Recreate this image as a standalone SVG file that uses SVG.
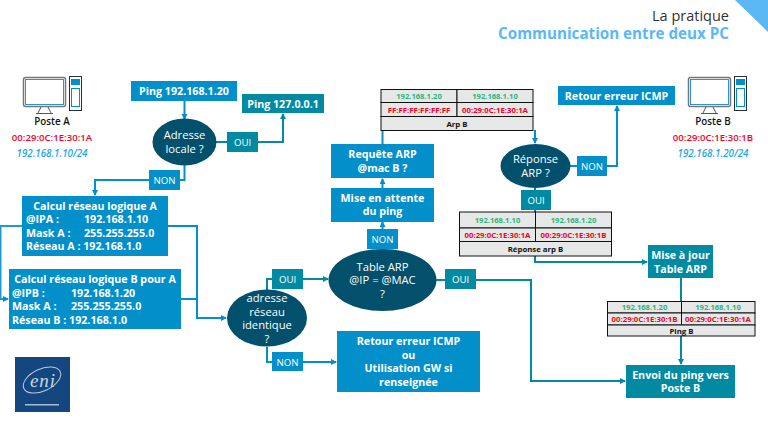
<svg xmlns="http://www.w3.org/2000/svg" width="768" height="425" viewBox="0 0 768 425">
<style>
text{font-family:"Open Sans","Noto Sans","Liberation Sans",sans-serif;text-anchor:middle}
.b{fill:#0390ca}.t{fill:#028aa3}.d{fill:#02506b}
.w{fill:#fff;font-weight:700;font-size:10.700px}
.l{text-anchor:start}
.e{fill:#fff;font-size:11.200px}
.lab{fill:#fff;font-size:9.600px;font-weight:400}
.c{fill:none;stroke:#0390ca;stroke-width:2}
.ct{fill:none;stroke:#028aa3;stroke-width:2}
.cell{fill:#e6e7e7;stroke:#111;stroke-width:1}
.ip{fill:#2cb67d;font-size:7.600px;font-weight:700}
.mac{fill:#f5001e;font-size:7.800px;font-weight:700}
.tt{fill:#111;font-size:7.800px;font-weight:700}
.pn{font-size:9.800px;font-weight:600;fill:#111}
.pm{font-size:9.600px;font-weight:600;fill:#f5001e}
.pi{font-size:9.800px;font-weight:600;font-style:italic;fill:#1ea7e8}
</style>
<defs>
<marker id="ab" markerWidth="7" markerHeight="7" refX="5" refY="3" orient="auto" markerUnits="userSpaceOnUse"><path d="M0 0L6 3L0 6Z" fill="#0390ca"/></marker>
<marker id="at" markerWidth="7" markerHeight="7" refX="5" refY="3" orient="auto" markerUnits="userSpaceOnUse"><path d="M0 0L6 3L0 6Z" fill="#028aa3"/></marker>
<g id="pc">
<rect x="0.500" y="1.500" width="42" height="29" rx="2" fill="#fff" stroke="#777" stroke-width="1.500"/>
<rect x="2.500" y="3.500" width="38" height="25" fill="#fff" stroke="#2a93d5" stroke-width="1"/>
<path d="M18 31L15 37M25 31L28 37M13 37.500H30" stroke="#555" stroke-width="1" fill="none"/>
<rect x="46.500" y="0.500" width="12" height="34" fill="#fff" stroke="#22303c" stroke-width="1"/>
<rect x="48" y="3" width="9" height="6" fill="#0390ca"/>
<rect x="48.500" y="12.500" width="8" height="18" fill="#fff" stroke="#0390ca" stroke-width="1"/>
</g>
</defs>

<rect width="768" height="425" fill="#fff"/>
<path d="M735 0H768V32Z" fill="#5bb8f5"/>
<text x="729" y="21" style="text-anchor:end;font-size:14.500px;fill:#333">La pratique</text>
<text x="729" y="39" style="text-anchor:end;font-size:15.200px;font-weight:700;fill:#5bb8f5">Communication entre deux PC</text>

<g id="connectors">
<path class="c" d="M184.500 101V119" marker-end="url(#ab)"/>
<path class="ct" d="M216 142H283V114" marker-end="url(#at)"/>
<path class="c" d="M184.500 165V180H95V195" marker-end="url(#ab)"/>
<path class="c" d="M22 226H0.500V299H8" marker-end="url(#ab)" stroke-opacity="0.9"/>
<path class="c" d="M168 226H197V318H226" marker-end="url(#ab)"/>
<path class="c" d="M181 299H197"/>
<path class="ct" d="M267 290V279H328" marker-end="url(#at)" stroke-width="1.500"/>
<path class="c" d="M267 347V362H336" marker-end="url(#ab)" stroke-width="1.500"/>
<path class="c" d="M382.500 229V222" marker-end="url(#ab)"/>
<path class="c" d="M382.500 249V229"/>
<path class="c" d="M382.500 188V179" marker-end="url(#ab)"/>
<path class="c" d="M382.500 144V130"/>
<path class="c" d="M535 130V143" marker-end="url(#ab)"/>
<path class="c" d="M570 166H617V106" marker-end="url(#ab)"/>
<path class="ct" d="M535 188V212"/>
<path class="ct" d="M535 256V262H647" marker-end="url(#at)"/>
<path class="ct" d="M681 278V302"/>
<path class="ct" d="M681 336V364" marker-end="url(#at)"/>
<path class="ct" d="M436 280H531V381H625" marker-end="url(#at)"/>
</g>

<g id="poste-a">
<use href="#pc" x="23" y="76"/>
<text class="pn" x="52" y="125">Poste A</text>
<text class="pm" x="52" y="141">00:29:0C:1E:30:1A</text>
<text class="pi" x="52" y="157">192.168.1.10/24</text>
</g>
<g id="poste-b">
<use href="#pc" x="688" y="76"/>
<text class="pn" x="713" y="125">Poste B</text>
<text class="pm" x="713" y="141">00:29:0C:1E:30:1B</text>
<text class="pi" x="713" y="157">192.168.1.20/24</text>
</g>

<g id="ping-20"><rect class="b" x="131" y="81" width="106" height="20"/><text class="w" x="184" y="95">Ping 192.168.1.20</text></g>
<g id="ping-127"><rect class="t" x="242" y="94" width="82" height="19"/><text class="w" x="283" y="108">Ping 127.0.0.1</text></g>
<g id="adresse-locale"><ellipse class="d" cx="184.500" cy="142" rx="32" ry="23.500"/><text class="e" x="184.500" y="139">Adresse</text><text class="e" x="184.500" y="153">locale ?</text></g>
<g id="oui-1"><rect class="t" x="227" y="132" width="31" height="20"/><text class="lab" x="242.500" y="146">OUI</text></g>
<g id="non-1"><rect class="b" x="149" y="170" width="31" height="20"/><text class="lab" x="164.500" y="184">NON</text></g>

<g id="calcul-a"><rect class="b" x="22" y="196" width="146" height="60"/>
<text class="w" x="95" y="210">Calcul réseau logique A</text>
<text class="w l" x="26" y="223">@IPA :</text><text class="w l" x="84" y="223">192.168.1.10</text>
<text class="w l" x="26" y="237">Mask A :</text><text class="w l" x="84" y="237">255.255.255.0</text>
<text class="w l" x="26" y="250">Réseau A : 192.168.1.0</text></g>
<g id="calcul-b"><rect class="b" x="9" y="269" width="172" height="60"/>
<text class="w" x="95" y="283">Calcul réseau logique B pour A</text>
<text class="w l" x="12" y="297">@IPB :</text><text class="w l" x="71" y="297">192.168.1.20</text>
<text class="w l" x="12" y="310">Mask A :</text><text class="w l" x="71" y="310">255.255.255.0</text>
<text class="w l" x="12" y="324">Réseau B : 192.168.1.0</text></g>

<g id="adresse-reseau"><ellipse class="d" cx="267" cy="318" rx="40" ry="28.500"/>
<text class="e" x="267" y="302">adresse</text><text class="e" x="267" y="316">réseau</text><text class="e" x="267" y="329">identique</text><text class="e" x="267" y="343">?</text></g>
<g id="oui-2"><rect class="t" x="272" y="269" width="31" height="20"/><text class="lab" x="287.500" y="283">OUI</text></g>
<g id="non-2"><rect class="b" x="272" y="352" width="31" height="19"/><text class="lab" x="287.500" y="365.500">NON</text></g>
<g id="table-arp"><ellipse class="d" cx="382.500" cy="280" rx="54" ry="31"/>
<text class="e" x="382.500" y="271">Table ARP</text><text class="e" x="382.500" y="284">@IP = @MAC</text><text class="e" x="382.500" y="298">?</text></g>
<g id="oui-3"><rect class="t" x="445" y="269" width="31" height="20"/><text class="lab" x="460.500" y="283">OUI</text></g>
<g id="retour-gw"><rect class="b" x="337" y="331" width="143" height="61"/>
<text class="w" x="408.500" y="345">Retour erreur ICMP</text><text class="w" x="408.500" y="359">ou</text><text class="w" x="408.500" y="372">Utilisation GW si</text><text class="w" x="408.500" y="386">renseignée</text></g>
<g id="non-3"><rect class="b" x="367" y="229" width="31" height="20"/><text class="lab" x="382.500" y="243">NON</text></g>
<g id="attente"><rect class="b" x="331" y="188" width="103" height="34"/><text class="w" x="382.500" y="202">Mise en attente</text><text class="w" x="382.500" y="215">du ping</text></g>
<g id="requete"><rect class="b" x="331" y="144" width="103" height="34"/><text class="w" x="382.500" y="158">Requête ARP</text><text class="w" x="382.500" y="172">@mac B ?</text></g>

<g id="arp-b">
<rect class="cell" x="381" y="89.500" width="76" height="13"/><rect class="cell" x="457" y="89.500" width="76" height="13"/>
<rect class="cell" x="381" y="102.500" width="76" height="14"/><rect class="cell" x="457" y="102.500" width="76" height="14"/>
<rect class="cell" x="381" y="116.500" width="152" height="14"/>
<text class="ip" x="419" y="99">192.168.1.20</text><text class="ip" x="495" y="99">192.168.1.10</text>
<text class="mac" x="419" y="113">FF:FF:FF:FF:FF:FF</text><text class="mac" x="495" y="113">00:29:0C:1E:30:1A</text>
<text class="tt" x="457" y="127">Arp B</text></g>

<g id="reponse"><ellipse class="d" cx="535.500" cy="166" rx="35" ry="22"/><text class="e" x="535.500" y="163">Réponse</text><text class="e" x="535.500" y="177">ARP ?</text></g>
<g id="non-4"><rect class="b" x="577" y="156" width="30" height="20"/><text class="lab" x="592" y="170">NON</text></g>
<g id="oui-4"><rect class="t" x="521" y="190" width="30" height="20"/><text class="lab" x="536" y="204">OUI</text></g>
<g id="retour-icmp"><rect class="b" x="558" y="86" width="117" height="19"/><text class="w" x="616.500" y="100">Retour erreur ICMP</text></g>

<g id="reponse-arp-b">
<rect class="cell" x="459.500" y="212" width="76" height="16"/><rect class="cell" x="535.500" y="212" width="76" height="16"/>
<rect class="cell" x="459.500" y="228" width="76" height="13.500"/><rect class="cell" x="535.500" y="228" width="76" height="13.500"/>
<rect class="cell" x="459.500" y="241.500" width="152" height="14.500"/>
<text class="ip" x="497.500" y="223">192.168.1.10</text><text class="ip" x="573.500" y="223">192.168.1.20</text>
<text class="mac" x="497.500" y="238">00:29:0C:1E:30:1A</text><text class="mac" x="573.500" y="238">00:29:0C:1E:30:1B</text>
<text class="tt" x="535.500" y="252">Réponse arp B</text></g>

<g id="maj"><rect class="t" x="648" y="245" width="65" height="33"/><text class="w" x="680.500" y="259">Mise à jour</text><text class="w" x="680.500" y="273">Table ARP</text></g>

<g id="ping-b">
<rect class="cell" x="607.500" y="301.500" width="74" height="11.500"/><rect class="cell" x="681.500" y="301.500" width="73.500" height="11.500"/>
<rect class="cell" x="607.500" y="313" width="74" height="12"/><rect class="cell" x="681.500" y="313" width="73.500" height="12"/>
<rect class="cell" x="607.500" y="325" width="147.500" height="11"/>
<text class="ip" x="644.500" y="310">192.168.1.20</text><text class="ip" x="718" y="310">192.168.1.10</text>
<text class="mac" x="644.500" y="322">00:29:0C:1E:30:1B</text><text class="mac" x="718" y="322">00:29:0C:1E:30:1A</text>
<text class="tt" x="681.500" y="333.500">Ping B</text></g>

<g id="envoi"><rect class="t" x="626" y="365" width="109" height="33"/><text class="w" x="680.500" y="379">Envoi du ping vers</text><text class="w" x="680.500" y="392">Poste B</text></g>

<g id="logo"><rect x="15" y="357" width="55" height="55" fill="#14477f"/>
<ellipse cx="42" cy="380" rx="20" ry="11" fill="none" stroke="#b9c9da" stroke-width="1" transform="rotate(-25 42 380)"/>
<text x="43" y="387" style="font-family:'Liberation Serif',serif;font-style:italic;font-size:19px;fill:#c9d6e3;letter-spacing:1px">eni</text>
<rect x="25" y="404" width="34" height="1.500" fill="#a9bdd2"/></g>
</svg>
